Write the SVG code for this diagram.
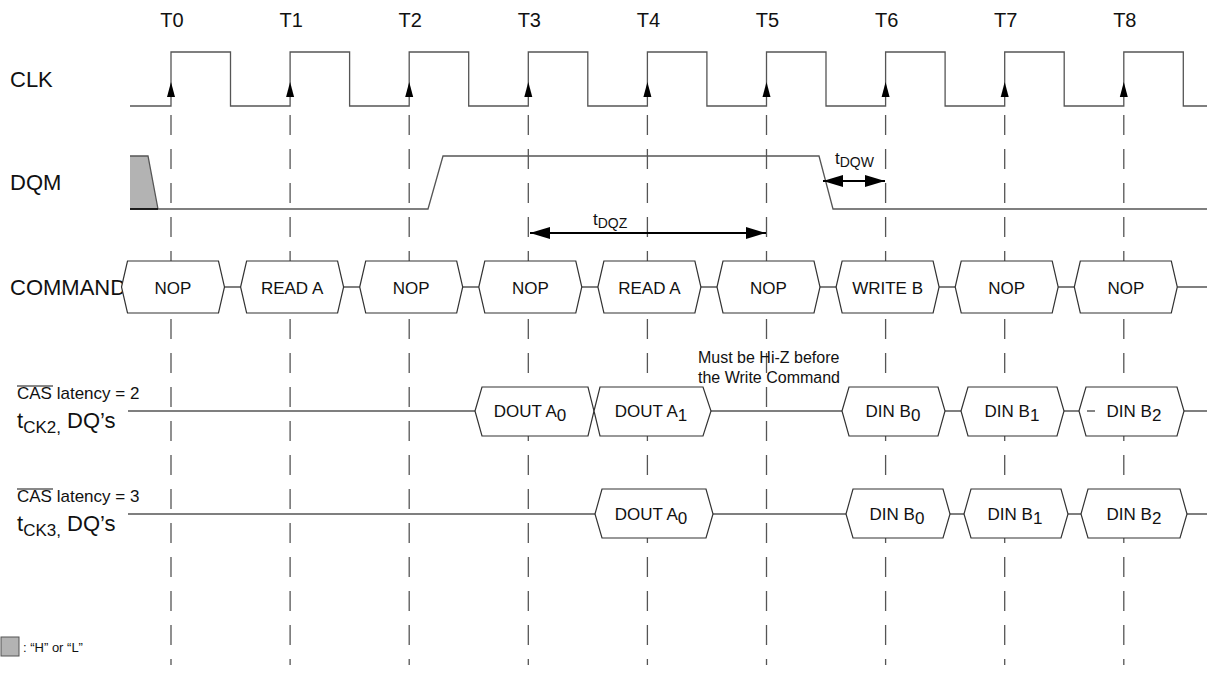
<svg xmlns="http://www.w3.org/2000/svg" xmlns:xlink="http://www.w3.org/1999/xlink" width="1207" height="687" viewBox="0 0 1207 687">
<style>
text{font-family:"Liberation Sans",Arial,sans-serif;fill:#111}
.tl{font-size:20px;text-anchor:middle}
.rl{font-size:22px}
.ht{font-size:17px;text-anchor:middle}
.sm{font-size:16px}
.wave{fill:none;stroke:#555;stroke-width:1.3}
.dash{stroke:#555;stroke-width:1.3;stroke-dasharray:20 14}
.hex{fill:#fff;stroke:#333;stroke-width:1.2}
.dim{stroke:#000;stroke-width:2;marker-start:url(#ah);marker-end:url(#ah)}
</style>
<defs>
<marker id="ah" viewBox="0 0 20 12" refX="20" refY="6" markerWidth="20" markerHeight="12" markerUnits="userSpaceOnUse" orient="auto-start-reverse">
<path d="M0,0 L20,6 L0,12 z" fill="#000"/>
</marker>
<path id="ca" d="M0,0 L-4,15 L4,15 z" fill="#000"/>
<polygon id="cmdhex" class="hex" points="-51.5,0 -45.5,-26 45.5,-26 51.5,0 45.5,26 -45.5,26"/>
</defs>
<rect width="1207" height="687" fill="#fff"/>

<g id="time-labels">
<text class="tl" x="172" y="27">T0</text>
<text class="tl" x="291.1" y="27">T1</text>
<text class="tl" x="410.2" y="27">T2</text>
<text class="tl" x="529.3" y="27">T3</text>
<text class="tl" x="648.4" y="27">T4</text>
<text class="tl" x="767.5" y="27">T5</text>
<text class="tl" x="886.6" y="27">T6</text>
<text class="tl" x="1005.7" y="27">T7</text>
<text class="tl" x="1124.8" y="27">T8</text>
</g>

<g id="row-labels">
<text class="rl" x="10" y="87">CLK</text>
<text class="rl" x="10" y="190">DQM</text>
<text class="rl" x="10" y="295">COMMAND</text>
<text x="17" y="399" font-size="17">CAS latency = 2</text>
<line x1="17" y1="386" x2="53" y2="386" stroke="#111" stroke-width="1"/>
<text x="17" y="428" font-size="22">t<tspan font-size="17" dy="5">CK2,</tspan><tspan dy="-5"> DQ’s</tspan></text>
<text x="17" y="502" font-size="17">CAS latency = 3</text>
<line x1="17" y1="489" x2="53" y2="489" stroke="#111" stroke-width="1"/>
<text x="17" y="531" font-size="22">t<tspan font-size="17" dy="5">CK3,</tspan><tspan dy="-5"> DQ’s</tspan></text>
</g>

<g id="grid">
<line class="dash" x1="171" y1="115" x2="171" y2="665"/>
<line class="dash" x1="290.1" y1="115" x2="290.1" y2="665"/>
<line class="dash" x1="409.2" y1="115" x2="409.2" y2="665"/>
<line class="dash" x1="528.3" y1="115" x2="528.3" y2="665"/>
<line class="dash" x1="647.4" y1="115" x2="647.4" y2="665"/>
<line class="dash" x1="766.5" y1="115" x2="766.5" y2="665"/>
<line class="dash" x1="885.6" y1="115" x2="885.6" y2="665"/>
<line class="dash" x1="1004.7" y1="115" x2="1004.7" y2="665"/>
<line class="dash" x1="1123.8" y1="115" x2="1123.8" y2="665"/>
</g>

<g id="connectors">
<path id="clk" class="wave" d="M130,106 H171 V52 H230.5 V106 H290.1 V52 H349.6 V106 H409.2 V52 H468.7 V106 H528.3 V52 H587.8 V106 H647.4 V52 H706.9 V106 H766.5 V52 H826 V106 H885.6 V52 H945.1 V106 H1004.7 V52 H1064.2 V106 H1123.8 V52 H1183.3 V106 H1207"/>
<use xlink:href="#ca" x="171" y="82"/>
<use xlink:href="#ca" x="290.1" y="82"/>
<use xlink:href="#ca" x="409.2" y="82"/>
<use xlink:href="#ca" x="528.3" y="82"/>
<use xlink:href="#ca" x="647.4" y="82"/>
<use xlink:href="#ca" x="766.5" y="82"/>
<use xlink:href="#ca" x="885.6" y="82"/>
<use xlink:href="#ca" x="1004.7" y="82"/>
<use xlink:href="#ca" x="1123.8" y="82"/>
<polygon points="130,156 148,156 158,209 130,209" fill="#b3b3b3" stroke="none"/>
<path class="wave" d="M130,156 H148 L158,209"/>
<path id="dqm" class="wave" d="M130,209 H428 L443,156 H819 L833,209 H1207"/>
<line x1="130" y1="209" x2="158" y2="209" stroke="#000" stroke-width="1.5"/>
<line class="dim" x1="530" y1="233" x2="766" y2="233"/>
<text x="593" y="225" font-size="17">t<tspan font-size="14" dy="3">DQZ</tspan></text>
<line class="dim" x1="823" y1="181" x2="885" y2="181"/>
<text x="835" y="164" font-size="17">t<tspan font-size="14" dy="3">DQW</tspan></text>
<line class="wave" x1="173" y1="287" x2="1207" y2="287"/>
<line class="wave" x1="128" y1="411" x2="1207" y2="411"/>
<line class="wave" x1="128" y1="514" x2="1207" y2="514"/>
</g>

<g id="cmd-0"><use xlink:href="#cmdhex" x="173" y="287"/><text class="ht" x="173" y="294">NOP</text></g>
<g id="cmd-1"><use xlink:href="#cmdhex" x="292.1" y="287"/><text class="ht" x="292.1" y="294">READ A</text></g>
<g id="cmd-2"><use xlink:href="#cmdhex" x="411.2" y="287"/><text class="ht" x="411.2" y="294">NOP</text></g>
<g id="cmd-3"><use xlink:href="#cmdhex" x="530.3" y="287"/><text class="ht" x="530.3" y="294">NOP</text></g>
<g id="cmd-4"><use xlink:href="#cmdhex" x="649.4" y="287"/><text class="ht" x="649.4" y="294">READ A</text></g>
<g id="cmd-5"><use xlink:href="#cmdhex" x="768.5" y="287"/><text class="ht" x="768.5" y="294">NOP</text></g>
<g id="cmd-6"><use xlink:href="#cmdhex" x="887.6" y="287"/><text class="ht" x="887.6" y="294">WRITE B</text></g>
<g id="cmd-7"><use xlink:href="#cmdhex" x="1006.7" y="287"/><text class="ht" x="1006.7" y="294">NOP</text></g>
<g id="cmd-8"><use xlink:href="#cmdhex" x="1125.8" y="287"/><text class="ht" x="1125.8" y="294">NOP</text></g>

<g id="cl2-dout-a0"><polygon class="hex" points="475,411 482,387 588,387 594,411 588,436 482,436"/><text class="ht" x="530" y="417">DOUT A<tspan dy="4">0</tspan></text></g>
<g id="cl2-dout-a1"><polygon class="hex" points="594,411 600,387 703,387 711,411 703,436 600,436"/><text class="ht" x="651" y="417">DOUT A<tspan dy="4">1</tspan></text></g>
<g id="cl2-din-b0"><polygon class="hex" points="842,411 849,387 938,387 945,411 938,436 849,436"/><text class="ht" x="893" y="417">DIN B<tspan dy="4">0</tspan></text></g>
<g id="cl2-din-b1"><polygon class="hex" points="961,411 968,387 1057,387 1064,411 1057,436 968,436"/><text class="ht" x="1012" y="417">DIN B<tspan dy="4">1</tspan></text></g>
<g id="cl2-din-b2"><polygon class="hex" points="1079,411 1086,387 1177,387 1184,411 1177,436 1086,436"/><line x1="1087" y1="411" x2="1095" y2="411" stroke="#333" stroke-width="1.2"/><text class="ht" x="1134" y="417">DIN B<tspan dy="4">2</tspan></text></g>

<g id="cl3-dout-a0"><polygon class="hex" points="595,514 602,489 706,489 713,514 706,538 602,538"/><text class="ht" x="651" y="520">DOUT A<tspan dy="4">0</tspan></text></g>
<g id="cl3-din-b0"><polygon class="hex" points="846,514 853,489 943,489 950,514 943,538 853,538"/><text class="ht" x="897" y="520">DIN B<tspan dy="4">0</tspan></text></g>
<g id="cl3-din-b1"><polygon class="hex" points="964,514 971,489 1061,489 1068,514 1061,538 971,538"/><text class="ht" x="1015" y="520">DIN B<tspan dy="4">1</tspan></text></g>
<g id="cl3-din-b2"><polygon class="hex" points="1081,514 1088,489 1180,489 1187,514 1180,538 1088,538"/><text class="ht" x="1134" y="520">DIN B<tspan dy="4">2</tspan></text></g>

<g id="note">
<text class="sm" x="698" y="363">Must be Hi-Z before</text>
<text class="sm" x="698" y="383">the Write Command</text>
</g>

<g id="legend">
<rect x="1" y="637" width="18" height="19" fill="#b3b3b3" stroke="#555" stroke-width="1"/>
<text x="23" y="652" font-size="13">: “H” or “L”</text>
</g>
</svg>
